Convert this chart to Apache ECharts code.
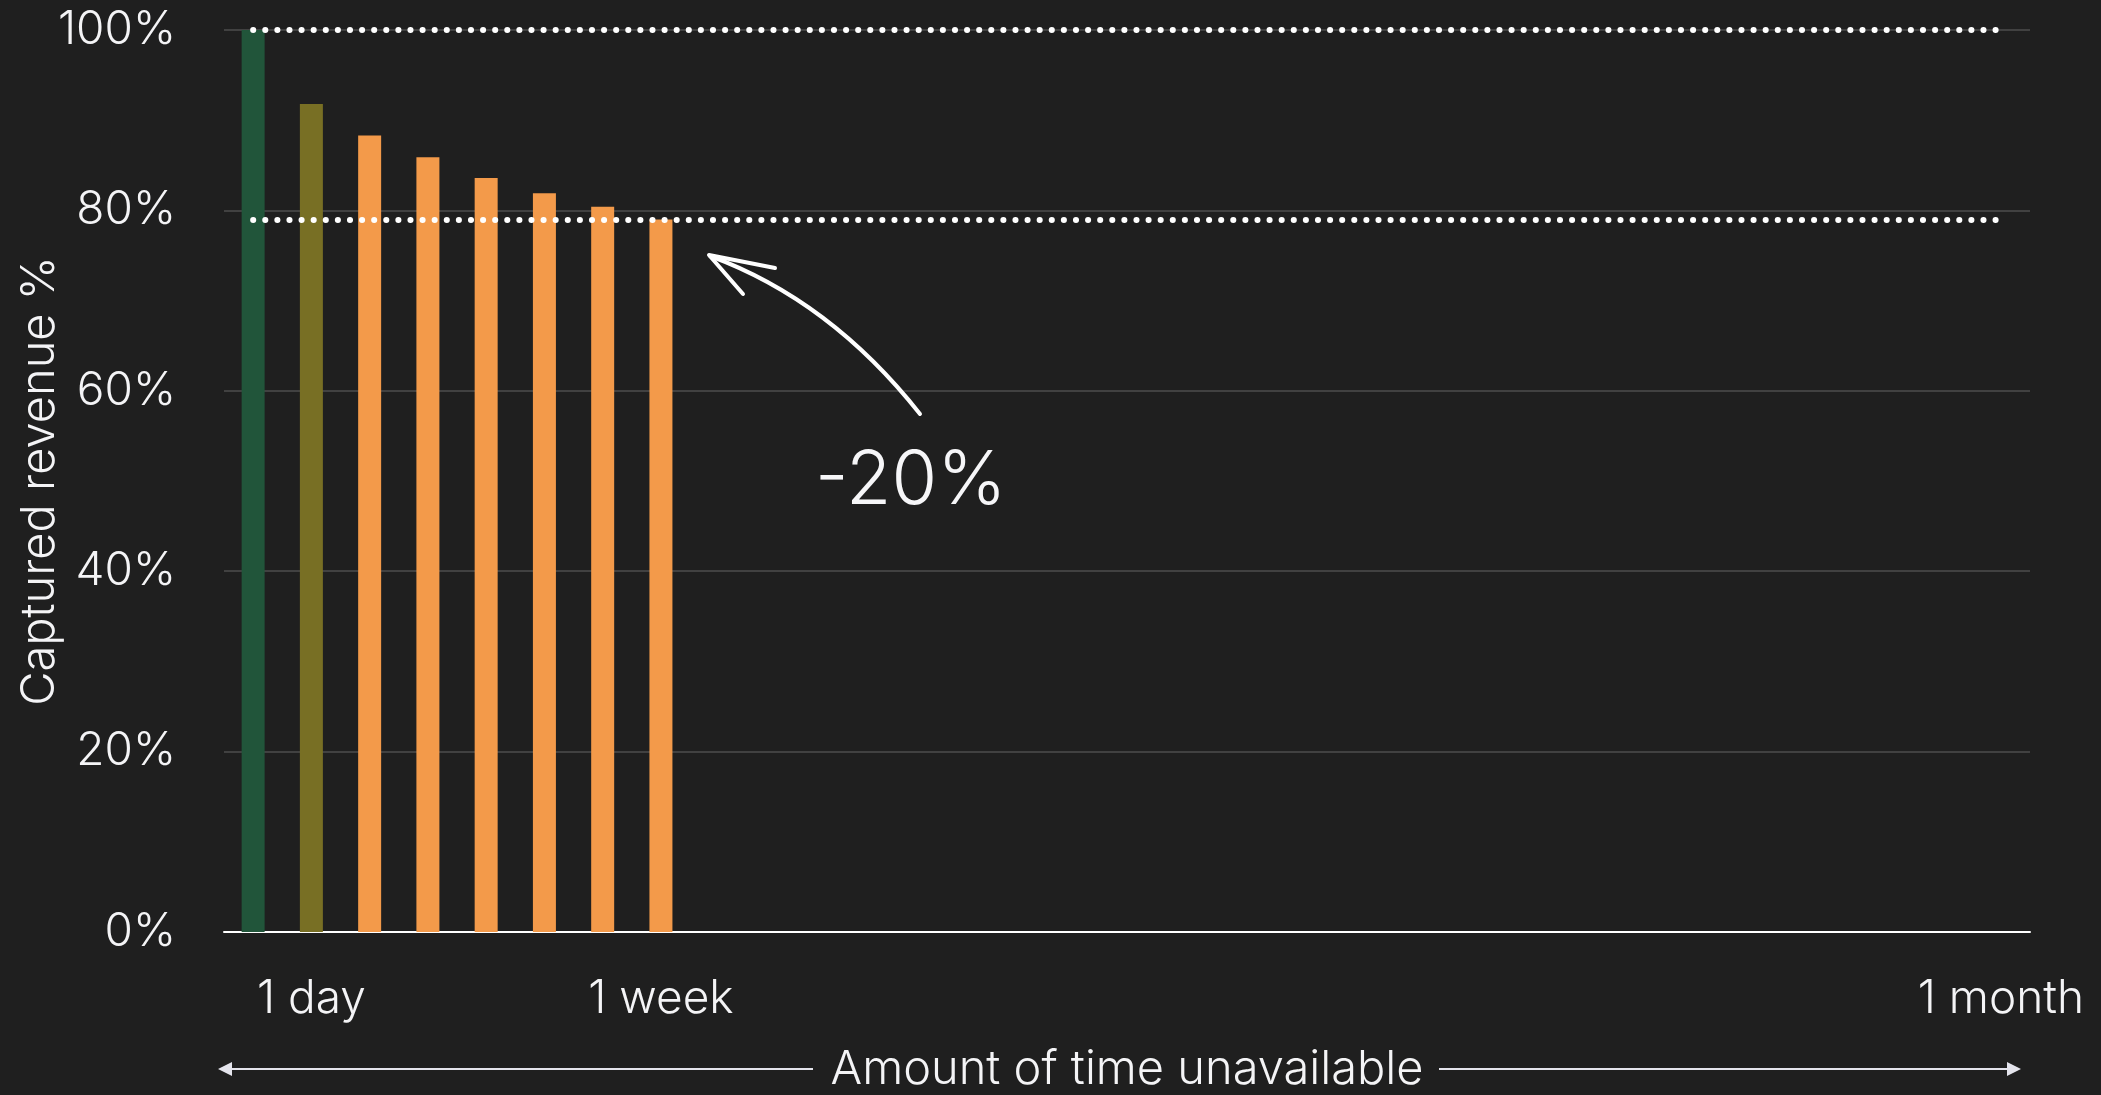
<!DOCTYPE html>
<html><head><meta charset="utf-8">
<script src="https://cdn.jsdelivr.net/npm/echarts@6/dist/echarts.min.js"></script>
<style>html,body{margin:0;padding:0;background:#1f1f1f;}#c{width:2101px;height:1095px;}</style>
</head><body><div id="c"></div>
<script>
// Days unavailable (0 .. 30)
const days = Array.from({length: 31}, (_, i) => String(i));
// Captured revenue % per day (only first 8 days drawn)
const captured = [100, 91.8, 88.3, 85.9, 83.6, 81.9, 80.4, 79.0];
// Tick labels on the time axis
const tickLabels = {1: '1 day', 7: '1 week', 30: '1 month'};
// Reference levels
const refLevels = [100, 79];
const annotationText = '-20%';

const FONT = 'Inter';
const barColors = ['#21553a', '#786f24'];
const orange = '#f39a4a';

const chart = echarts.init(document.getElementById('c'), null, {renderer: 'canvas'});
chart.setOption({
  backgroundColor: '#1f1f1f',
  animation: false,
  textStyle: {fontFamily: FONT},
  grid: {left: 224, right: 71, top: 30, bottom: 163, containLabel: false, outerBoundsMode: 'none'},
  xAxis: {
    type: 'category',
    data: days,
    boundaryGap: true,
    axisLine: {lineStyle: {color: '#ffffff', width: 2}},
    axisTick: {show: false},
    axisLabel: {
      interval: 0, margin: 44, color: '#f4f4f6', fontSize: 46, fontWeight: 300, fontFamily: FONT,
      formatter: (v, i) => tickLabels[i] || ''
    },
    name: 'Amount of time unavailable',
    nameLocation: 'middle',
    nameGap: 114,
    nameMoveOverlap: false,
    nameTextStyle: {color: '#f4f4f6', fontSize: 47, fontWeight: 300, fontFamily: FONT}
  },
  yAxis: {
    type: 'value', min: 0, max: 100, interval: 20,
    axisLine: {show: false}, axisTick: {show: false},
    splitLine: {lineStyle: {color: '#414141', width: 2}},
    axisLabel: {formatter: '{value}%', margin: 48, color: '#f4f4f6', fontSize: 46, fontWeight: 300, fontFamily: FONT},
    name: 'Captured revenue %',
    nameLocation: 'middle',
    nameGap: 161,
    nameRotate: 90,
    nameMoveOverlap: false,
    nameTextStyle: {color: '#f4f4f6', fontSize: 47, fontWeight: 300, fontFamily: FONT}
  },
  series: [{
    type: 'bar',
    data: captured,
    barWidth: 23,
    itemStyle: {color: p => barColors[p.dataIndex] || orange},
    markLine: {
      silent: true,
      symbol: ['none', 'none'],
      label: {show: false},
      lineStyle: {color: '#ffffff', width: 6, type: [0.1, 12], cap: 'round', opacity: 1},
      data: refLevels.map(v => [{coord: [0, v]}, {coord: [30, v]}])
    }
  }]
});

// Annotation arrow and text, plus axis-name arrows
const arrowColor = '#e4e4ec';
chart.setOption({
  graphic: [
    {type: 'bezierCurve', shape: {x1: 920, y1: 414, cpx1: 830, cpy1: 300, x2: 710, y2: 256},
     style: {stroke: '#ffffff', lineWidth: 4, fill: null, lineCap: 'round'}},
    {type: 'polyline', shape: {points: [[775, 268], [709, 255], [743, 294]]},
     style: {stroke: '#ffffff', lineWidth: 4, fill: null, lineCap: 'round', lineJoin: 'round'}},
    {type: 'text', x: 815, y: 482,
     style: {text: annotationText, fill: '#f6f6f8', font: '300 74px ' + FONT, textVerticalAlign: 'middle', textAlign: 'left'}},
    {type: 'line', shape: {x1: 228, y1: 1069, x2: 813, y2: 1069}, style: {stroke: arrowColor, lineWidth: 2}},
    {type: 'polygon', shape: {points: [[218, 1069], [232, 1062], [232, 1076]]}, style: {fill: arrowColor}},
    {type: 'line', shape: {x1: 1439, y1: 1069, x2: 2010, y2: 1069}, style: {stroke: arrowColor, lineWidth: 2}},
    {type: 'polygon', shape: {points: [[2021, 1069], [2007, 1062], [2007, 1076]]}, style: {fill: arrowColor}}
  ]
});
</script></body></html>
